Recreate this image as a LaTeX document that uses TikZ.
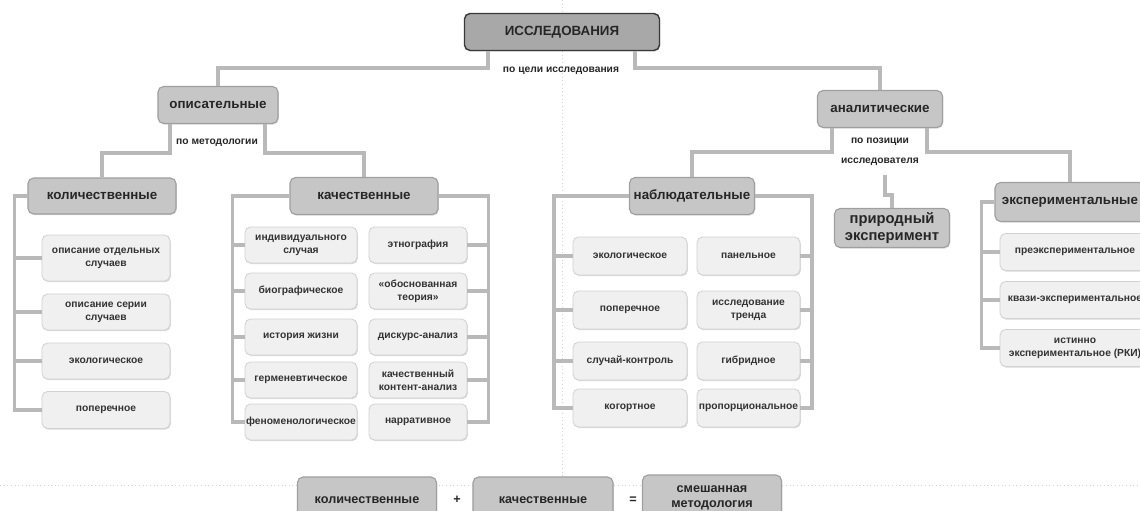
\documentclass[tikz,border=0pt]{standalone}
\usepackage{fontspec}
\setmainfont{Liberation Sans}
\usetikzlibrary{shadows}

\begin{document}
\begin{tikzpicture}[
    x=0.025cm, y=-0.025cm,
    link/.style={draw=gray!55, line width=2.6pt},
    guide/.style={draw=gray!35, dotted, line width=0.6pt},
    topbox/.style={draw=gray!45!black, fill=gray!68, line width=1pt,
      rounded corners=4pt, inner sep=1pt, text=black!85,
      font=\fontsize{9.5}{11}\selectfont\bfseries,
      drop shadow={opacity=0.25, shadow xshift=0.6pt, shadow yshift=-0.8pt}},
    head/.style={draw=gray!75, fill=gray!45, line width=0.8pt,
      rounded corners=4pt, inner sep=1pt, text=black!85, align=center,
      font=\fontsize{9.5}{11}\selectfont\bfseries,
      drop shadow={opacity=0.25, shadow xshift=0.6pt, shadow yshift=-0.8pt}},
    leaf/.style={draw=gray!35, fill=gray!12, line width=0.6pt,
      rounded corners=4pt, inner sep=0.5pt, text=black!80, align=center,
      font=\fontsize{7.3}{9.2}\selectfont\bfseries,
      drop shadow={opacity=0.3, shadow xshift=0.6pt, shadow yshift=-0.8pt}},
    lbl/.style={font=\fontsize{7.3}{14}\selectfont\bfseries, align=center,
      text=black!85},
  ]
  \useasboundingbox (0,0) rectangle (1140,511);
  \clip (0,0) rectangle (1140,511);

  % Guides
  \draw[guide] (562,0) -- (562,511);
  \draw[guide] (0,485) -- (1140,485);

  % Top
  \node[topbox, minimum width=4.875cm, minimum height=0.925cm] (res)
    at (562,32) {ИССЛЕДОВАНИЯ};
  \node[lbl] (lgoal) at (561,71) {по цели исследования};

  \node[head, minimum width=3cm, minimum height=0.925cm] (opis)
    at (218,105) {описательные};
  \node[head, minimum width=3.125cm, minimum height=0.925cm] (anal)
    at (880,109) {аналитические};

  \coordinate (j1) at (488,68);
  \coordinate (j2) at (635,68);
  \draw[link] (res.south -| j1) -- (j1) -| (opis);
  \draw[link] (res.south -| j2) -- (j2) -| (anal);

  % Left: descriptive
  \node[lbl] (lmeth) at (217,143) {по методологии};
  \node[head, minimum width=3.7cm, minimum height=0.9cm] (kol)
    at (102,196) {количественные};
  \node[head, minimum width=3.7cm, minimum height=0.925cm] (kach)
    at (364,196) {качественные};

  \coordinate (j3) at (170,153);
  \coordinate (j4) at (265,153);
  \draw[link] (opis.south -| j3) -- (j3) -| (kol);
  \draw[link] (opis.south -| j4) -- (j4) -| (kach);

  \foreach \y/\h/\t [count=\i] in {258/1.15/{описание отдельных\\случаев},
      312/0.9/{описание серии\\случаев}, 361/0.9/экологическое,
      410/0.925/поперечное} {
    \node[leaf, minimum width=3.2cm, minimum height=\h cm] (k\i)
      at (106,\y) {\t};
    \draw[link] (kol.west) -- ++(-13,0) |- (k\i);
  }

  \foreach \y/\a/\b [count=\i] in {245/{индивидуального\\случая}/этнография,
      291/биографическое/{«обоснованная\\теория»},
      337/{история жизни}/дискурс-анализ,
      380/герменевтическое/{качественный\\контент-анализ},
      422/феноменологическое/нарративное} {
    \node[leaf, minimum width=2.8cm, minimum height=0.9cm] (ql\i)
      at (301,\y) {\a};
    \node[leaf, minimum width=2.45cm, minimum height=0.9cm] (qr\i)
      at (418,\y) {\b};
    \draw[link] (kach.west) -- ++(-57,0) |- (ql\i);
    \draw[link] (kach.east) -- ++(50,0) |- (qr\i);
  }

  % Right: analytical
  \node[lbl] (lpos) at (880,152) {по позиции\\исследователя};
  \node[head, minimum width=3.125cm, minimum height=0.925cm] (nabl)
    at (692,196) {наблюдательные};
  \node[head, minimum width=2.875cm, minimum height=0.975cm,
        font=\fontsize{10.5}{12}\selectfont\bfseries] (prir)
    at (892,228) {природный\\эксперимент};
  \node[head, minimum width=3.75cm, minimum height=0.975cm] (eksp)
    at (1070,202) {экспериментальные};

  \coordinate (j5) at (832,152);
  \coordinate (j6) at (927,152);
  \coordinate (j7) at (885,175);
  \draw[link] (anal.south -| j5) -- (j5) -| (nabl);
  \draw[link] (anal.south -| j6) -- (j6) -| (eksp);
  \draw[link] (j7) -- ++(0,20) -| (prir);

  \foreach \y/\a/\b [count=\i] in {256/экологическое/панельное,
      310/поперечное/{исследование\\тренда},
      361/случай-контроль/гибридное,
      408/когортное/пропорциональное} {
    \node[leaf, minimum width=2.85cm, minimum height=0.95cm] (nl\i)
      at (630,\y) {\a};
    \node[leaf, minimum width=2.575cm, minimum height=0.95cm] (nr\i)
      at (748.5,\y) {\b};
    \draw[link] (nabl.west) -- ++(-75,0) |- (nl\i);
    \draw[link] (nabl.east) -- ++(57,0) |- (nr\i);
  }

  \foreach \y/\t [count=\i] in {252/преэкспериментальное,
      300/квази-экспериментальное,
      348/{истинно\\экспериментальное (РКИ)}} {
    \node[leaf, minimum width=3.75cm, minimum height=0.925cm] (e\i)
      at (1075,\y) {\t};
    \draw[link] (eksp.west) -- ++(-13,0) |- (e\i);
  }

  % Bottom: mixed methodology
  \node[head, minimum width=3.475cm, minimum height=1.15cm,
        font=\fontsize{9}{11}\selectfont\bfseries] (mkol)
    at (367,500) {количественные};
  \node[lbl, font=\fontsize{9}{11}\selectfont\bfseries] (plus) at (457,500) {+};
  \node[head, minimum width=3.5cm, minimum height=1.15cm,
        font=\fontsize{9}{11}\selectfont\bfseries] (mkach)
    at (543,500) {качественные};
  \node[lbl, font=\fontsize{9}{11}\selectfont\bfseries] (eq) at (633,500) {=};
  \node[head, minimum width=3.475cm, minimum height=1.15cm,
        font=\fontsize{9}{11}\selectfont\bfseries] (mix)
    at (712,498) {смешанная\\методология};

\end{tikzpicture}
\end{document}
